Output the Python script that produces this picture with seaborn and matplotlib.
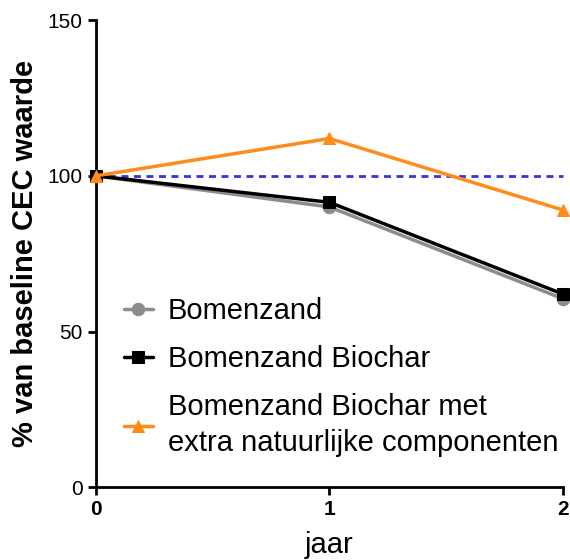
import pandas as pd
import numpy as np
import matplotlib
matplotlib.use("Agg")
import matplotlib.pyplot as plt
import seaborn as sns

jaar = [0, 1, 2]
bomenzand = [100, 90, 60.5]
biochar = [100, 91.5, 62]
biochar_extra = [100, 112, 89]
baseline = 100
labels = ["Bomenzand", "Bomenzand Biochar",
          "Bomenzand Biochar met\nextra natuurlijke componenten"]

df = pd.DataFrame({
    "jaar": jaar * 3,
    "waarde": bomenzand + biochar + biochar_extra,
    "groep": [labels[0]] * 3 + [labels[1]] * 3 + [labels[2]] * 3,
})

sns.set_style("ticks")
plt.rcParams["font.family"] = ["Liberation Sans", "DejaVu Sans"]
plt.rcParams["text.color"] = "black"
plt.rcParams["axes.labelcolor"] = "black"
plt.rcParams["xtick.color"] = "black"
plt.rcParams["ytick.color"] = "black"
plt.rcParams["axes.edgecolor"] = "black"

fig, ax = plt.subplots(figsize=(5.7, 5.6), dpi=100)
fig.subplots_adjust(left=0.168, right=0.988, bottom=0.13, top=0.964)

ax.axhline(baseline, color="#3434d8", linestyle=(0, (2.5, 2)), linewidth=2, zorder=1)

colors = ["#8c8c8c", "#000000", "#ff8c1a"]
markers = ["o", "s", "^"]
for lab, col, mk in zip(labels, colors, markers):
    sub = df[df["groep"] == lab]
    sns.lineplot(data=sub, x="jaar", y="waarde", ax=ax, color=col, marker=mk,
                 markersize=9, markeredgecolor=col, linewidth=2.5, label=lab,
                 zorder=3)

ax.set_xlim(0, 2)
ax.set_ylim(0, 150)
ax.set_xticks([0, 1, 2])
ax.set_yticks([0, 50, 100, 150])
for t in ax.get_xticklabels():
    t.set_fontweight("bold")
ax.tick_params(axis="both", labelsize=15, width=2, length=6)
ax.set_xlabel("jaar", fontsize=21, labelpad=8)
ax.set_ylabel("% van baseline CEC waarde", fontsize=21, fontweight="bold", labelpad=6)
for s in ["left", "bottom"]:
    ax.spines[s].set_linewidth(2)
sns.despine(ax=ax)
for line in ax.get_lines():
    line.set_clip_on(False)

leg = ax.legend(loc="lower left", bbox_to_anchor=(0.035, 0.04), frameon=False,
                fontsize=21, handlelength=1.0, handletextpad=0.5, labelspacing=0.68,
                borderaxespad=0)
for t in leg.get_texts():
    t.set_linespacing(1.35)

fig.savefig("out.png", dpi=100)
